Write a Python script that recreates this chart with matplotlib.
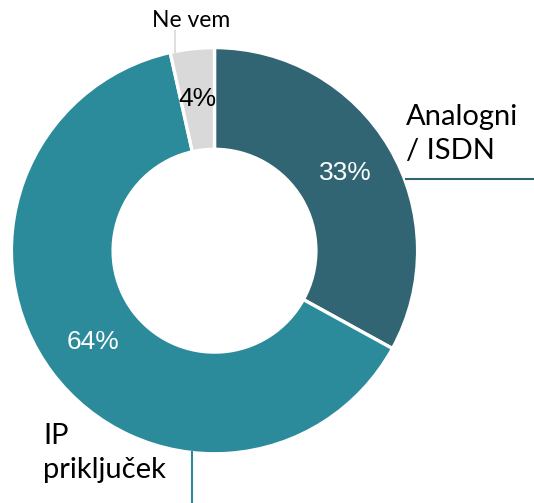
import matplotlib
matplotlib.use("Agg")
import numpy as np
import matplotlib.pyplot as plt

# data
categories = ["Analogni\n/ ISDN", "IP\npriključek", "Ne vem"]
values = [33, 63.5, 3.5]
pct_labels = ["33%", "64%", "4%"]
colors = ["#326574", "#2b8b9b", "#d9d9d9"]
pct_colors = ["white", "white", "black"]

W, H = 534, 503
cx, cy = 214.5, H - 250.7
R_out, R_in = 201.5, 103.0
lw = 2.4
pad = lw * 0.67  # white edge eats half the stroke

fig = plt.figure(figsize=(W / 100, H / 100), dpi=100)
ax = fig.add_axes([0, 0, 1, 1])

wedges, _ = ax.pie(values, colors=colors, startangle=90, counterclock=False,
                   radius=R_out + pad, center=(cx, cy),
                   wedgeprops=dict(width=R_out - R_in + 2 * pad,
                                   edgecolor="white", linewidth=lw))

# percentage labels
for w, txt, col in zip(wedges, pct_labels, pct_colors):
    ang = np.deg2rad((w.theta1 + w.theta2) / 2)
    r = 0.755 * R_out
    ax.text(cx + r * np.cos(ang), cy + r * np.sin(ang), txt,
            ha="center", va="center", color=col, fontsize=19,
            family="Liberation Sans")

# category labels with leader lines (baseline = last line)
lab_font = dict(family="Lato", fontsize=21, color="black", va="baseline",
                linespacing=1.37)
ax.text(406, H - 159, categories[0], **lab_font)
ax.text(43, H - 478, categories[1], **lab_font)
ax.text(152, H - 26.7, categories[2], **dict(lab_font, fontsize=16.5))

ax.plot([405, W], [H - 179.3, H - 179.3], color=colors[0], lw=1.5,
        solid_capstyle="butt")
ax.plot([192.3, 192.3], [H - 451, 0], color=colors[1], lw=1.5,
        solid_capstyle="butt")
ax.plot([175, 175], [H - 30, H - 53], color=colors[2], lw=1.2,
        solid_capstyle="butt")

ax.set_xlim(0, W)
ax.set_ylim(0, H)
ax.set_aspect("equal")
ax.axis("off")

fig.savefig("out.png", dpi=100)
